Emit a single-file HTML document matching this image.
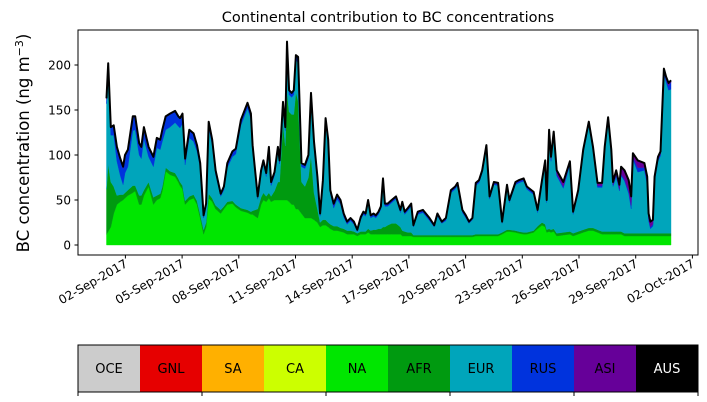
<!DOCTYPE html>
<html><head><meta charset="utf-8"><style>
body{margin:0;background:#fff;}
svg{display:block;font-family:"DejaVu Sans","Liberation Sans",sans-serif;}
</style></head><body>
<svg id="chart" width="707" height="402" viewBox="0 0 707 402">
<text x="388" y="22" font-size="14.5" text-anchor="middle">Continental contribution to BC concentrations</text>
<text transform="translate(29,143) rotate(-90)" font-size="16.5" text-anchor="middle">BC concentration (ng m<tspan baseline-shift="super" font-size="11">−3</tspan>)</text>
<g id="areas"></g>
<g id="yaxis"></g>
<g id="xaxis"></g>
<rect x="78" y="30" width="620" height="225" fill="none" stroke="#000" stroke-width="1"/>
<g id="legend"></g>
</svg>
<script>
const times=[0,0.09,0.23,0.38,0.55,0.73,0.88,0.98,1.13,1.39,1.52,1.73,1.84,1.98,2.23,2.48,2.66,2.84,2.95,3.13,3.36,3.63,3.80,3.89,4.02,4.16,4.38,4.61,4.79,4.96,5.14,5.27,5.41,5.59,5.77,6.04,6.21,6.39,6.66,6.84,7.11,7.46,7.64,7.73,8.00,8.18,8.30,8.45,8.59,8.71,8.89,9.07,9.16,9.34,9.46,9.55,9.66,9.80,9.91,10.02,10.14,10.32,10.50,10.68,10.82,10.98,11.16,11.30,11.45,11.59,11.73,11.84,12.02,12.20,12.38,12.55,12.73,12.91,13.09,13.27,13.45,13.59,13.71,13.84,13.98,14.13,14.25,14.39,14.52,14.63,14.73,14.88,15.09,15.32,15.55,15.65,15.78,15.94,16.12,16.24,16.47,16.74,17.09,17.34,17.51,17.74,17.96,18.22,18.45,18.57,18.83,19.01,19.18,19.36,19.54,19.71,19.88,20.10,20.27,20.50,20.72,20.93,21.19,21.32,21.64,21.81,22.07,22.24,22.60,22.81,23.04,23.21,23.29,23.42,23.52,23.66,23.82,24.17,24.52,24.69,24.96,25.22,25.52,25.74,25.98,26.22,26.36,26.54,26.71,26.80,26.97,27.14,27.23,27.41,27.63,27.76,27.85,28.11,28.46,28.61,28.68,28.78,28.91,29.00,29.18,29.31,29.49,29.61,29.74,29.87];
const na=[12,15,20,35,45,48,50,52,55,58,60,45,45,55,65,45,50,52,60,82,78,76,70,66,62,45,50,52,45,30,12,20,52,48,40,35,40,45,46,42,38,36,34,34,30,45,50,48,52,48,50,50,50,50,50,50,48,45,45,40,40,35,30,30,30,28,25,20,22,22,20,18,16,16,15,14,12,12,12,10,12,12,12,14,12,12,12,12,12,12,12,12,12,12,12,10,10,10,10,9,9,9,9,9,9,9,9,9,9,9,9,9,9,9,10,10,10,10,10,10,10,12,15,15,14,13,12,12,14,18,22,20,14,15,14,15,10,11,12,10,12,14,16,16,14,12,12,12,12,12,12,12,12,10,10,10,10,10,10,10,10,10,10,10,10,10,10,10,10,10];
const afr=[50,75,50,30,10,8,6,6,6,8,6,10,10,6,5,8,5,5,5,4,4,4,4,4,4,4,4,4,4,4,5,5,5,4,4,4,3,3,3,3,3,3,3,4,10,8,8,6,6,6,10,20,20,85,60,120,100,100,100,130,120,35,35,45,70,30,15,5,6,6,5,5,5,5,4,4,4,4,3,3,3,3,3,4,4,5,5,6,6,8,8,10,12,12,8,6,5,4,4,2,2,2,2,2,2,2,2,2,2,2,2,2,2,2,2,2,2,2,2,2,2,2,2,2,2,2,2,2,2,3,3,3,3,3,3,3,3,3,3,3,3,3,3,3,3,3,3,3,3,3,3,3,3,3,3,3,3,3,3,3,3,3,3,3,3,3,3,3,3,3];
const eur=[95,105,52,57,38,21,11,22,26,61,62,45,41,57,28,34,53,49,50,42,49,56,58,60,69,40,65,59,55,52,13,18,74,59,34,15,18,38,49,56,92,113,103,68,11,26,32,22,46,12,17,34,20,19,17,50,19,19,22,35,43,17,20,21,63,52,32,7,40,108,87,34,20,30,26,13,7,11,8,2,13,19,17,29,14,15,13,16,22,50,23,21,23,27,16,29,19,24,29,9,23,25,16,9,21,13,16,47,51,55,25,19,13,17,54,57,68,96,39,55,54,10,47,30,51,54,57,48,40,15,44,67,30,106,76,103,64,49,74,21,42,85,114,86,47,49,90,123,87,50,61,45,62,58,44,27,82,68,70,54,14,5,8,58,80,86,177,168,159,160];
const rus=[5,6,8,10,15,18,18,18,18,15,14,12,12,12,10,10,10,10,12,14,14,12,10,10,10,6,8,8,6,4,2,2,5,5,4,2,3,4,5,5,5,5,5,4,2,3,3,3,4,3,3,4,3,4,3,5,4,4,4,5,5,3,3,3,5,4,3,2,3,4,4,3,3,3,3,2,2,2,2,1,2,2,2,2,2,2,2,2,2,3,2,2,2,2,2,2,2,2,2,1,2,2,2,1,2,1,2,2,2,2,2,2,1,1,2,2,2,2,2,2,2,1,2,2,2,2,2,2,2,2,2,2,2,2,2,2,2,2,2,2,2,2,2,2,2,2,2,2,2,2,2,2,2,2,3,4,3,5,3,3,2,2,2,2,2,2,3,3,5,8];
const asi=[1,1,1,1,1,1,2,2,1,1,1,1,1,1,1,1,1,1,1,1,1,1,1,1,1,1,1,1,1,1,1,1,1,1,1,1,1,1,1,1,1,1,1,1,1,1,1,1,1,1,1,1,1,1,1,1,1,1,1,1,1,1,1,1,1,1,1,1,1,1,1,1,2,2,2,2,1,1,1,1,1,1,1,1,1,1,1,1,1,1,1,1,1,1,1,1,1,1,1,1,1,1,1,1,1,1,1,1,1,1,1,1,1,1,1,1,1,1,1,1,1,1,1,1,1,1,1,1,1,1,1,2,1,2,3,3,4,5,2,1,2,2,2,2,3,3,2,2,2,3,5,5,8,10,12,10,4,8,5,6,6,6,5,3,3,3,3,3,3,2];
const seriesNames=["NA","AFR","EUR","RUS","ASI"];
const seriesColors=["#00e600","#009a10","#00a5bb","#0033dd","#660099"];
const yTicks=[0,50,100,150,200];
const xTickDays=[1,4,7,10,13,16,19,22,25,28,31];
const xTickLabels=["02-Sep-2017","05-Sep-2017","08-Sep-2017","11-Sep-2017","14-Sep-2017","17-Sep-2017","20-Sep-2017","23-Sep-2017","26-Sep-2017","29-Sep-2017","02-Oct-2017"];
const legendNames=["OCE","GNL","SA","CA","NA","AFR","EUR","RUS","ASI","AUS"];
const legendColors=["#cccccc","#e60000","#ffb000","#ccff00","#00e600","#009a10","#00a5bb","#0033dd","#660099","#000000"];

const NS="http://www.w3.org/2000/svg";
const X=t=>106.5+18.9*t;
const Y=v=>245-0.9*v;
function mk(tag,attrs,parent){const e=document.createElementNS(NS,tag);for(const k in attrs)e.setAttribute(k,attrs[k]);parent.appendChild(e);return e;}
const series=[na,afr,eur,rus,asi];
const areas=document.getElementById('areas');
let base=times.map(()=>0);
series.forEach((s,si)=>{
  const top=base.map((b,i)=>b+s[i]);
  let d="M"+times.map((t,i)=>X(t).toFixed(1)+","+Y(top[i]).toFixed(1)).join("L");
  for(let i=times.length-1;i>=0;i--)d+="L"+X(times[i]).toFixed(1)+","+Y(base[i]).toFixed(1);
  const p=mk('path',{d:d+"Z",fill:seriesColors[si],stroke:seriesColors[si],'stroke-width':0.4},areas);
  
  
  base=top;
});
const line=mk('path',{d:"M"+times.map((t,i)=>X(t).toFixed(1)+","+Y(base[i]).toFixed(1)).join("L"),fill:"none",stroke:"#000",'stroke-width':2,'stroke-linejoin':'round'},areas);



const ya=document.getElementById('yaxis');
yTicks.forEach(v=>{
  const l=mk('line',{x1:74.5,x2:78,y1:Y(v),y2:Y(v),stroke:"#000"},ya);
  
  
  const tx=mk('text',{x:71,y:Y(v)+4.5,'font-size':12,'text-anchor':'end'},ya);
  tx.textContent=v;
  
  
});
const xa=document.getElementById('xaxis');
xTickDays.forEach((d,i)=>{
  const x=X(d);
  const l=mk('line',{x1:x,x2:x,y1:255,y2:258.5,stroke:"#000"},xa);
  
  
  const tx=mk('text',{transform:`translate(${x+3},${266}) rotate(-30)`,'font-size':12,'text-anchor':'end'},xa);
  tx.textContent=xTickLabels[i];
  
  
});
const lg=document.getElementById('legend');
const cw=62;
legendNames.forEach((n,i)=>{
  const r=mk('rect',{x:78+i*cw,y:345,width:cw,height:47,fill:legendColors[i]},lg);
  
  
  const tx=mk('text',{x:78+i*cw+cw/2,y:373,'font-size':13,'text-anchor':'middle',fill:n==="AUS"?"#fff":"#000"},lg);
  tx.textContent=n;
  
  
});
const fr=mk('rect',{x:78,y:345,width:620,height:47,fill:"none",stroke:"#000"},lg);


for(let k=0;k<=10;k+=2){
  const t=mk('line',{x1:78+k*cw,x2:78+k*cw,y1:392,y2:396,stroke:"#000"},lg);
  
  
}
</script>
</body></html>
